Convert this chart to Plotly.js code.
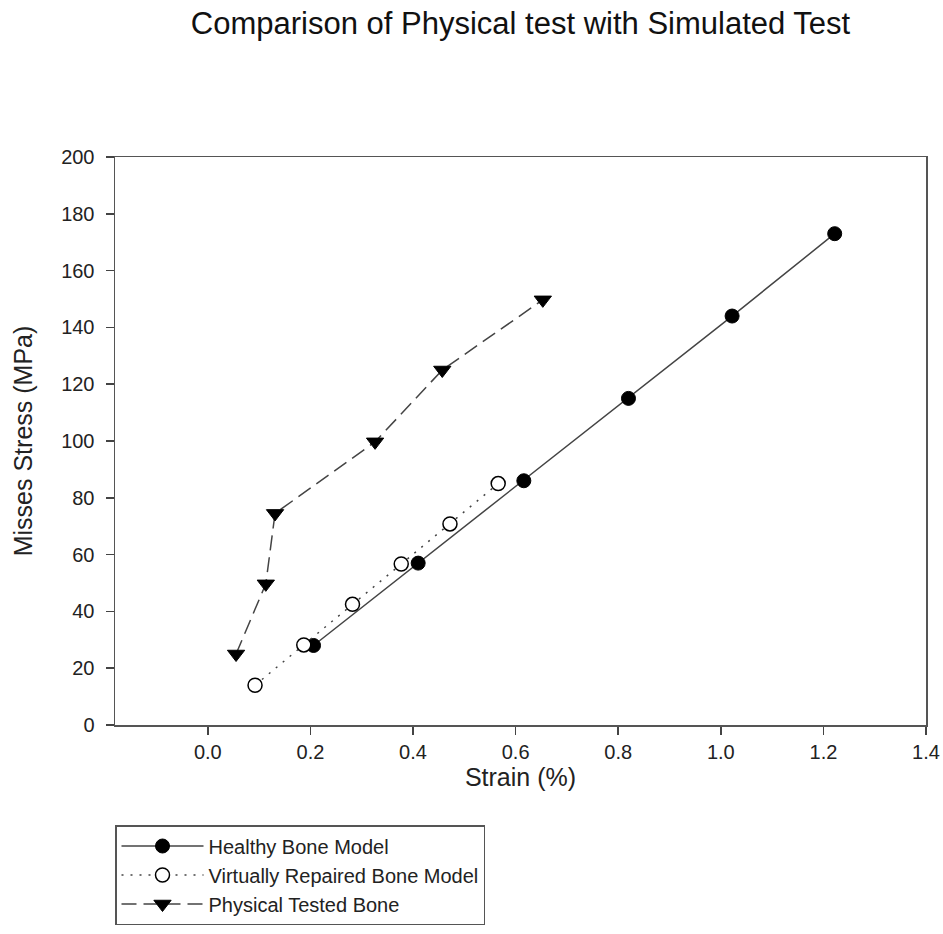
<!DOCTYPE html>
<html>
<head>
<meta charset="utf-8">
<script src="https://cdn.plot.ly/plotly-3.0.1.min.js"></script>
<style>html,body{margin:0;padding:0;background:#fff;}#chart{width:943px;height:934px;}</style>
</head>
<body>
<div id="chart"></div>
<script>
const healthyStrain = [0.206, 0.41, 0.616, 0.82, 1.022, 1.222];
const healthyStress = [28, 57, 86, 115, 144, 173];

const repairedStrain = [0.092, 0.187, 0.282, 0.377, 0.472, 0.566];
const repairedStress = [14, 28.2, 42.5, 56.7, 70.8, 85];

const physicalStrain = [0.055, 0.113, 0.131, 0.326, 0.457, 0.653];
const physicalStress = [25, 49.7, 74.5, 99.7, 125, 149.7];

const seriesNames = ["Healthy Bone Model", "Virtually Repaired Bone Model", "Physical Tested Bone"];
const xTickVals = [0, 0.2, 0.4, 0.6, 0.8, 1.0, 1.2, 1.4];
const xTickText = ["0.0", "0.2", "0.4", "0.6", "0.8", "1.0", "1.2", "1.4"];
const yTickVals = [0, 20, 40, 60, 80, 100, 120, 140, 160, 180, 200];

const FONT = "Liberation Sans, Arial, Helvetica, sans-serif";
const lineCol = "#444";

const traces = [
  {
    x: healthyStrain, y: healthyStress, name: seriesNames[0],
    mode: "lines+markers", type: "scatter",
    line: {color: lineCol, width: 1.5, dash: "solid"},
    marker: {symbol: "circle", size: 14, color: "#000", line: {color: "#000", width: 1}}
  },
  {
    x: repairedStrain, y: repairedStress, name: seriesNames[1],
    mode: "lines+markers", type: "scatter",
    line: {color: lineCol, width: 1.5, dash: "2px,7px"},
    marker: {symbol: "circle", size: 14, color: "#fff", line: {color: "#000", width: 1.5}}
  },
  {
    x: physicalStrain, y: physicalStress, name: seriesNames[2],
    mode: "lines+markers", type: "scatter",
    line: {color: lineCol, width: 1.5, dash: "15px,7px"},
    marker: {symbol: "triangle-down", size: 15, color: "#000", line: {color: "#000", width: 1}}
  }
];

const layout = {
  width: 943, height: 934,
  margin: {l: 115, r: 17, t: 157, b: 209},
  paper_bgcolor: "#fff", plot_bgcolor: "#fff",
  font: {family: FONT, color: "#222"},
  title: {
    text: "Comparison of Physical test with Simulated Test",
    font: {family: FONT, size: 31, color: "#111"},
    x: 0.552, xanchor: "center", xref: "container",
    y: 0.975, yanchor: "middle", yref: "container"
  },
  xaxis: {
    range: [-0.181, 1.4],
    tickvals: xTickVals, ticktext: xTickText,
    ticks: "outside", ticklen: 8, tickwidth: 1.5, tickcolor: "#444",
    showline: true, linecolor: "#555", linewidth: 1.5, mirror: true,
    showgrid: false, zeroline: false,
    tickfont: {family: FONT, size: 20, color: "#222"},
    title: {text: "Strain (%)", font: {family: FONT, size: 25, color: "#222"}, standoff: 6},
    automargin: false
  },
  yaxis: {
    range: [0, 200],
    tickvals: yTickVals,
    ticks: "outside", ticklen: 8, tickwidth: 1.5, tickcolor: "#444",
    showline: true, linecolor: "#555", linewidth: 1.5, mirror: true,
    showgrid: false, zeroline: false,
    tickfont: {family: FONT, size: 20, color: "#222"},
    ticklabelstandoff: 7,
    title: {text: "Misses Stress (MPa)", font: {family: FONT, size: 25, color: "#222"}, standoff: 21},
    automargin: false
  },
  showlegend: true,
  legend: {
    x: 0, xanchor: "left", xref: "paper",
    y: 0.1167, yanchor: "top", yref: "container",
    bgcolor: "#fff", bordercolor: "#555", borderwidth: 1.5,
    font: {family: FONT, size: 20, color: "#222"},
    itemwidth: 82,
    traceorder: "normal"
  }
};

Plotly.newPlot("chart", traces, layout, {displayModeBar: false, staticPlot: true});
</script>
</body>
</html>
